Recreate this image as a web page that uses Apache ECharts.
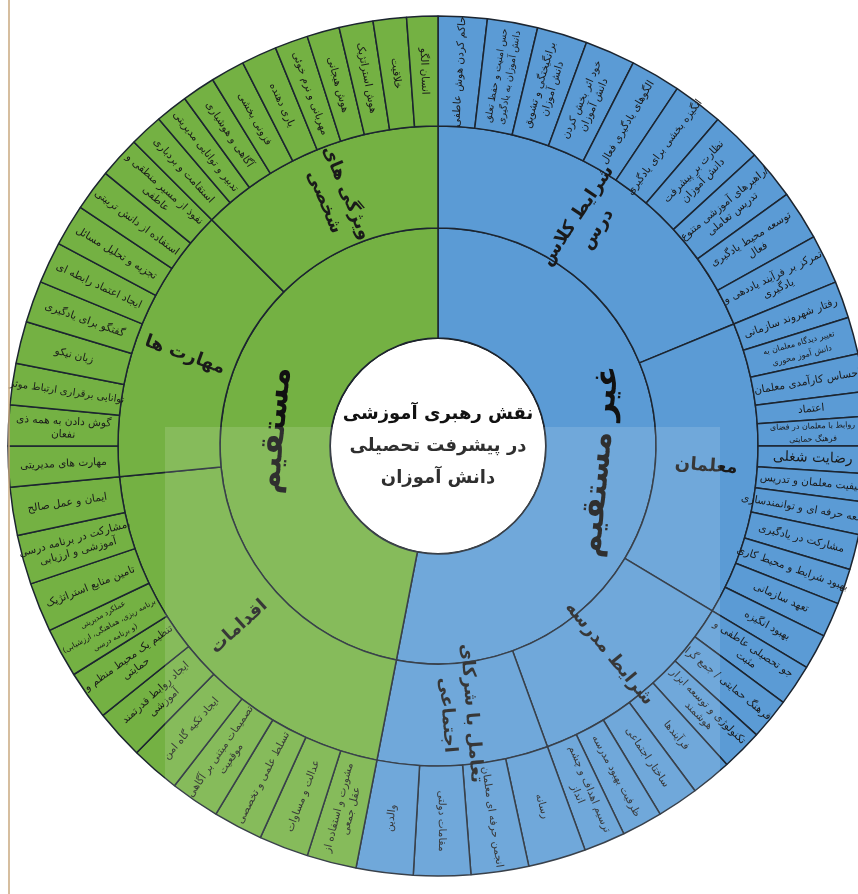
<!DOCTYPE html>
<html><head><meta charset="utf-8">
<script src="https://cdn.jsdelivr.net/npm/echarts@6/dist/echarts.min.js"></script>
<style>html,body{margin:0;padding:0;background:#fff}#c{width:858px;height:894px}</style>
</head><body><div id="c"></div>
<script>
// ---------- data ----------
const centerTitle = 'نقش رهبری آموزشی\nدر پیشرفت تحصیلی\nدانش آموزان';
const branchNames = ['غیر مستقیم', 'مستقیم'];

const indirectGroups = ['شرایط کلاس\nدرس', 'معلمان', 'شرایط مدرسه', 'تعامل با شرکای\nاجتماعی'];
const directGroups = ['اقدامات', 'مهارت ها', 'ویژگی های\nشخصی'];

const classLeaves = ['حاکم کردن هوش عاطفی', 'حس امنیت و حفظ تعلق\nدانش آموزان به یادگیری', 'برانگیختگی و تشویق\nدانش آموزان', 'خود اثر بخش کردن\nدانش آموزان', 'الگوهای یادگیری فعال', 'انگیزه بخشی برای یادگیری', 'نظارت بر پیشرفت\nدانش آموزان', 'راهبرهای آموزشی متنوع/\nتدریس تعاملی', 'توسعه محیط یادگیری\nفعال', 'تمرکز بر فرآیند یاددهی و\nیادگیری'];
const classWeights = [6.6, 6.8, 6.8, 6.8, 6.8, 6.8, 6.8, 6.8, 6.7, 6.7];

const teacherLeaves = ['رفتار شهروند سازمانی', 'تغییر دیدگاه معلمان به\nدانش آموز محوری', 'احساس کارآمدی معلمان', 'اعتماد', 'روابط با معلمان در فضای\nفرهنگ حمایتی', 'رضایت شغلی', 'کیفیت معلمان و تدریس', 'توسعه حرفه ای و توانمندسازی', 'مشارکت در یادگیری', 'بهبود شرایط و محیط کاری', 'تعهد سازمانی', 'بهبود انگیزه'];
const teacherWeights = [5.0, 5.0, 5.1, 3.3, 4.0, 3.7, 3.8, 4.4, 4.8, 4.8, 4.7, 4.8];

const schoolLeaves = ['جو تحصیلی عاطفی و\nمثبت', 'فرهنگ حمایتی / جمع گرا', 'تکنولوژی و توسعه ابزار\nهوشمند', 'فرآیندها', 'ساختار اجتماعی', 'ظرفیت بهبود مدرسه', 'ترسیم اهداف و چشم\nانداز'];
const schoolWeights = [5.6, 5.6, 5.6, 5.5, 5.6, 5.5, 5.6];

const partnerLeaves = ['رسانه', 'انجمن حرفه ای معلمان', 'مقامات دولتی', 'والدین'];
const partnerWeights = [7.8, 7.8, 7.7, 7.7];

const actionLeaves = ['مشورت و استفاده از\nعقل جمعی', 'عدالت و مساوات', 'تسلط علمی و تخصصی', 'تصمیمات مبتنی بر آگاهی\nموقعیت', 'ایجاد تکیه گاه امن', 'ایجاد روابط قدرتمند\nآموزشی', 'تنظیم یک محیط منظم و\nحمایتی', 'عملکرد مدیریتی\n(برنامه ریزی، هماهنگی، ارزشیابی\nو برنامه درسی)', 'تامین منابع استراتژیک', 'مشارکت در برنامه درسی،\nآموزشی و ارزیابی', 'ایمان و عمل صالح'];
const actionWeights = [6.7, 6.7, 6.7, 6.7, 6.7, 6.7, 6.7, 6.7, 6.7, 6.7, 6.5];

const skillLeaves = ['مهارت های مدیریتی', 'گوش دادن به همه ذی\nنفعان', 'توانایی برقراری ارتباط موثر', 'زبان نیکو', 'گفتگو برای یادگیری', 'ایجاد اعتماد رابطه ای', 'تجزیه و تحلیل مسائل', 'استفاده از دانش تربیتی', 'نفوذ از مسیر منطقی و\nعاطفی'];
const skillWeights = [5.5, 5.5, 5.6, 5.7, 5.64, 5.64, 5.64, 5.64, 5.64];

const traitLeaves = ['استقامت و بردباری', 'تدبیر و توانایی مدیریتی', 'آگاهی و هوشیاری', 'فزونی بخشی', 'یاری دهنده', 'مهربانی و نرم خوئی', 'هوش هیجانی', 'هوش استراتژیک', 'خلاقیت', 'انسان الگو'];
const traitWeights = [4.5, 4.4, 4.5, 4.6, 4.8, 4.5, 4.4, 4.6, 4.5, 4.2];

// ---------- styles ----------
const BLUE = '#5b9bd5', GREEN = '#74b143', LINE = '#1c2530';
const FONT = 'DejaVu Sans';
const labelSizes = {'تغییر دیدگاه معلمان به\nدانش آموز محوری': 8, 'روابط با معلمان در فضای\nفرهنگ حمایتی': 8, 'عملکرد مدیریتی\n(برنامه ریزی، هماهنگی، ارزشیابی\nو برنامه درسی)': 7.5, 'رضایت شغلی': 14, 'حس امنیت و حفظ تعلق\nدانش آموزان به یادگیری': 9.5, 'توانایی برقراری ارتباط موثر': 10};

function leaves(names, weights, color) {
  return names.map((n, i) => {
    const o = {name: n, value: weights[i], itemStyle: {color: color}};
    if (labelSizes[n]) o.label = {fontSize: labelSizes[n]};
    return o;
  });
}
function group(name, color, ls, ws) {
  return {name: name, itemStyle: {color: color}, children: leaves(ls, ws, color)};
}

const data = [{
  name: centerTitle,
  itemStyle: {color: '#ffffff', borderColor: '#111', borderWidth: 2},
  children: [
    {name: branchNames[0], itemStyle: {color: BLUE}, children: [
      group(indirectGroups[0], BLUE, classLeaves, classWeights),
      group(indirectGroups[1], BLUE, teacherLeaves, teacherWeights),
      group(indirectGroups[2], BLUE, schoolLeaves, schoolWeights),
      group(indirectGroups[3], BLUE, partnerLeaves, partnerWeights)
    ]},
    {name: branchNames[1], itemStyle: {color: GREEN}, children: [
      group(directGroups[0], GREEN, actionLeaves, actionWeights),
      group(directGroups[1], GREEN, skillLeaves, skillWeights),
      group(directGroups[2], GREEN, traitLeaves, traitWeights)
    ]}
  ]
}];

const chart = echarts.init(document.getElementById('c'), null, {renderer: 'canvas'});
chart.setOption({
  backgroundColor: '#ffffff',
  animation: false,
  graphic: [
    {type: 'rect', z: 100, silent: true, shape: {x: 165, y: 427, width: 555, height: 470}, style: {fill: 'rgba(255,255,255,0.13)'}},
    {type: 'line', z: 101, silent: true, shape: {x1: 9, y1: 0, x2: 9, y2: 894}, style: {stroke: '#c9a97f', lineWidth: 1.5}}
  ],
  series: [{
    type: 'sunburst',
    center: [438, 446],
    radius: [0, 430],
    sort: null,
    startAngle: 90,
    clockwise: true,
    nodeClick: false,
    emphasis: {disabled: true},
    data: data,
    itemStyle: {borderColor: LINE, borderWidth: 1.5},
    label: {color: '#1a1a1a', fontFamily: FONT},
    levels: [
      {},
      {r0: 0, r: 108, itemStyle: {borderColor: '#111', borderWidth: 2},
       label: {rotate: 0, fontSize: 18, fontWeight: 'bold', lineHeight: 32, color: '#111'}},
      {r0: 108, r: 218, label: {rotate: 'tangential', fontSize: 32, fontWeight: 'bold', color: '#111'}},
      {r0: 218, r: 320, label: {rotate: 'radial', fontSize: 18, fontWeight: 'bold', lineHeight: 24, color: '#1a1a1a'}},
      {r0: 320, r: 430, label: {rotate: 'radial', fontSize: 10.5, lineHeight: 13, color: '#1a1a1a'}}
    ]
  }]
});
</script></body></html>
